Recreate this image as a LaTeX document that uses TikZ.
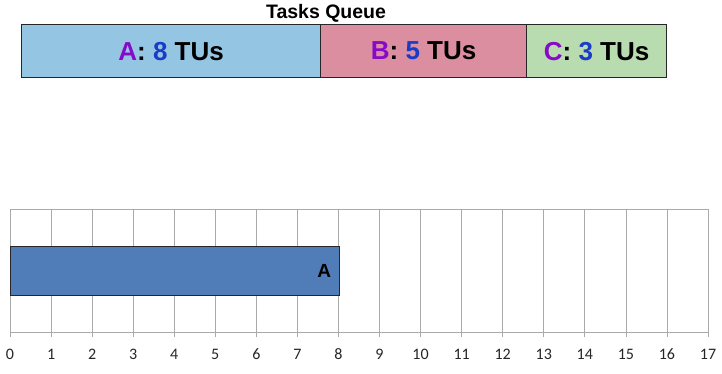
\documentclass[tikz,border=0pt]{standalone}
\usepackage{fontspec}
\setmainfont{Liberation Sans}
\newfontfamily\axisfont{Carlito}
\definecolor{qa}{RGB}{148,197,226}
\definecolor{qb}{RGB}{219,142,160}
\definecolor{qc}{RGB}{185,219,176}
\definecolor{lett}{RGB}{135,10,200}
\definecolor{numc}{RGB}{25,60,200}
\definecolor{barc}{RGB}{80,124,183}
\definecolor{gridc}{RGB}{170,170,170}
\tikzset{
  qbox/.style={draw=black!85, line width=1.2pt, minimum height=53pt, inner sep=0pt, font=\bfseries\fontsize{26}{28}\selectfont},
  gridline/.style={draw=gridc, line width=0.8pt},
  ticklab/.style={font=\axisfont\fontsize{16}{18}\selectfont, text=black!85},
}
\begin{document}
\begin{tikzpicture}[x=1pt,y=-1pt]
\useasboundingbox[fill=white] (0,0) rectangle (722,373);
% queue
\node[font=\bfseries\fontsize{19.5}{21}\selectfont] (title) at (326,13) {Tasks Queue};
\node[qbox, fill=qa, minimum width=299pt, anchor=north west] (qA) at (21,24) {\textcolor{lett}{A}: \textcolor{numc}{8} TUs};
\node[qbox, fill=qb, minimum width=206pt, anchor=north west] (qB) at (320,24) {\textcolor{lett}{B}: \textcolor{numc}{5} TUs};
\node[qbox, fill=qc, minimum width=140pt, anchor=north west] (qC) at (526,24) {\textcolor{lett}{C}: \textcolor{numc}{3} TUs};
% chart
\draw[gridline] (10,209) -- (708,209);
\foreach \i in {0,...,17} {
  \draw[gridline] ({10+\i*41.06},209) -- ({10+\i*41.06},337);
  \node[ticklab] (t\i) at ({10+\i*41.06},354) {\i};
}
\draw[gridline] (10,332) -- (708,332);
\node[draw=black!85, line width=1pt, fill=barc, minimum width=328.5pt, minimum height=49pt, inner sep=0pt, anchor=north west] (barA) at (10,246) {};
\node[font=\bfseries\fontsize{19}{21}\selectfont, anchor=east] (labA) at ([xshift=-5pt]barA.east) {A};
\end{tikzpicture}
\end{document}
